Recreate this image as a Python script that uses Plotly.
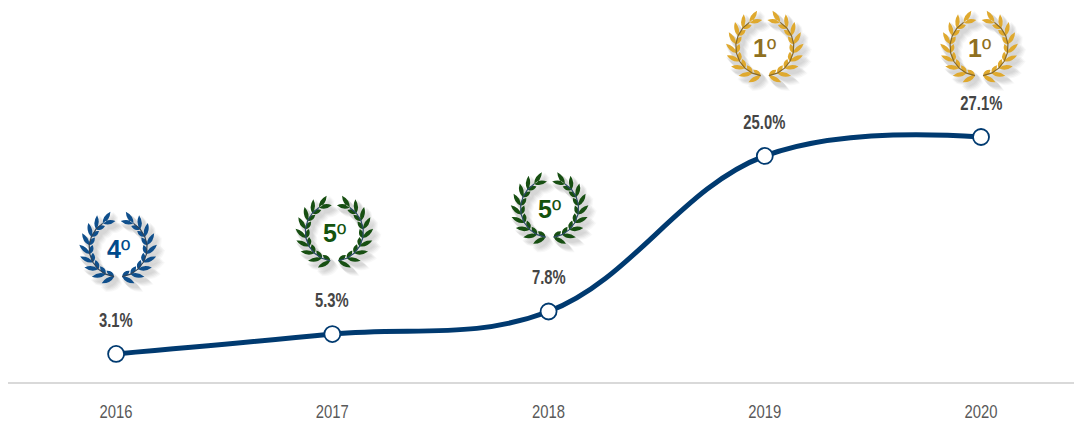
import math
import plotly.graph_objects as go

years = [2016, 2017, 2018, 2019, 2020]
share = [3.1, 5.3, 7.8, 25.0, 27.1]
labels = ["3.1%", "5.3%", "7.8%", "25.0%", "27.1%"]
ranks = ["4", "5", "5", "1", "1"]
wreath_lift = [107, 103, 104, 110, 91]   # pixels above the data point
wreath_dx = [2, 2, 1, 0, -2]

LEAF = {"4": "#0f4f8c", "5": "#174f12", "1": "#dfa92e"}
STEM = {"4": "#2f4358", "5": "#2c4a68", "1": "#86692a"}
INK = {"4": "#004a8c", "5": "#14530e", "1": "#8f7020"}


def leaf(x, y, ang, length=13.5, width=4.4):
    ca, sa = math.cos(ang), math.sin(ang)
    tx, ty = x + length * ca, y + length * sa
    mx, my = x + length * 0.45 * ca, y + length * 0.45 * sa
    c1 = (mx - width * sa, my + width * ca)
    c2 = (mx + width * sa, my - width * ca)
    return f"M{x:.1f} {y:.1f} Q{c1[0]:.1f} {c1[1]:.1f} {tx:.1f} {ty:.1f} Q{c2[0]:.1f} {c2[1]:.1f} {x:.1f} {y:.1f} Z"


def wreath_paths(dx, dy):
    R, cy = 29.0, -1.0
    leaves, stems = [], []
    for side in (1, -1):
        n = 9
        arc = []
        for i in range(n):
            a = math.radians(-82 + i * (140 / (n - 1)))
            px, py = R * math.cos(a), cy + R * math.sin(a)
            tang = a + math.pi / 2
            arc.append((px, py))
            specs = [(tang - math.radians(36), 14.0), (tang + math.radians(30), 9.5)]
            if i == n - 1:
                specs = [(tang - math.radians(25), 14.0), (tang + math.radians(22), 13.0)]
            for ang, ln in specs:
                if side == 1:
                    leaves.append(leaf(px + dx, py + dy, ang, ln))
                else:
                    leaves.append(leaf(-px + dx, py + dy, math.pi - ang, ln))
        s = [(side * p[0] + dx, p[1] + dy) for p in arc]
        stems.append("M" + " L".join(f"{x:.1f} {y:.1f}" for x, y in s))
    return " ".join(leaves), " ".join(stems)


shapes = []
annotations = []
for yr, v, lab, rk, lift, dx in zip(years, share, labels, ranks, wreath_lift, wreath_dx):
    leaves, stems = wreath_paths(dx, lift)
    common = dict(type="path", xref="x", yref="y", xsizemode="pixel", ysizemode="pixel",
                  xanchor=yr, yanchor=v)
    for ox, oy, op in ((2, -3, 0.07), (3, -4, 0.08), (4, -5, 0.08), (5, -6, 0.06), (6, -7, 0.05)):
        sl, _ = wreath_paths(dx + ox, lift + oy)
        shapes.append(dict(common, path=sl, fillcolor="#808080", opacity=op, line=dict(width=3, color="#808080")))
    shapes.append(dict(common, path=leaves, fillcolor=LEAF[rk], line=dict(width=0)))
    shapes.append(dict(common, path=stems, line=dict(width=1.2, color=STEM[rk])))
    annotations.append(dict(x=yr, y=v, xref="x", yref="y", text=lab, showarrow=False,
                            yshift=34, yanchor="middle", xanchor="center",
                            font=dict(family="Liberation Sans", size=20, color="#454545", weight="bold")))
    annotations.append(dict(x=yr, y=v, xref="x", yref="y", text=f"<b>{rk}</b>º", showarrow=False,
                            yshift=lift - 2, xshift=dx, yanchor="middle", xanchor="center",
                            font=dict(family="Liberation Sans", size=25, color=INK[rk])))

fig = go.Figure(go.Scatter(
    x=years, y=share, mode="lines+markers",
    line=dict(color="#003a70", width=5, shape="spline", smoothing=1.1),
    marker=dict(size=16, color="white", line=dict(color="#003a70", width=1.8)),
    hoverinfo="skip",
))
fig.update_layout(
    width=1074, height=421, autosize=False,
    margin=dict(l=8, r=0, t=0, b=39),
    paper_bgcolor="white", plot_bgcolor="white",
    showlegend=False, shapes=shapes, annotations=annotations,
    xaxis=dict(range=[2015.5, 2020.43], tickmode="array", tickvals=years,
               ticktext=[str(y) for y in years], showgrid=False, zeroline=False,
               showline=True, linecolor="#d9d9d9", linewidth=2, ticks="", automargin=False,
               ticklabelstandoff=11,
               tickfont=dict(family="Liberation Sans", size=19, color="#595959")),
    yaxis=dict(range=[0, 42.25], visible=False),
)

# The reference's labels are set in a narrow face; squeeze the real text to that width.
NARROW = """
document.body.style.margin = '0';
document.querySelectorAll('.annotation-text, .xtick text').forEach(function (t) {
  if (t.textContent.indexOf('º') >= 0) return;
  var k = t.textContent.indexOf('%') >= 0 ? 0.74 : 0.78;
  t.setAttribute('textLength', (t.getComputedTextLength() * k).toFixed(1));
  t.setAttribute('lengthAdjust', 'spacingAndGlyphs');
});
"""
fig.write_html("out.html", config=dict(displayModeBar=False), post_script=NARROW)
